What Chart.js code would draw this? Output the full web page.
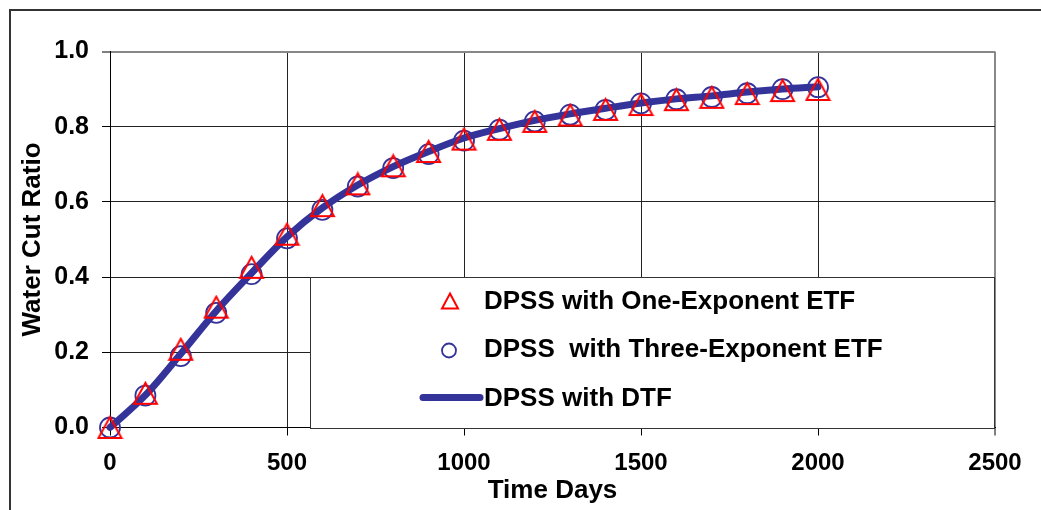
<!DOCTYPE html>
<html>
<head>
<meta charset="utf-8">
<script src="https://cdn.jsdelivr.net/npm/chart.js@4.4.0/dist/chart.umd.min.js"></script>
<style>
  html, body { margin: 0; padding: 0; background: #fff; }
  #wrap { position: relative; width: 1041px; height: 510px; }
</style>
</head>
<body>
<div id="wrap"><canvas id="waterCut" width="1041" height="510"></canvas></div>
<script>
// Time (days) at which every model was evaluated
const timeDays = [0, 100, 200, 300, 400, 500, 600, 700, 800, 900, 1000,
                  1100, 1200, 1300, 1400, 1500, 1600, 1700, 1800, 1900, 2000];

// Water cut ratio for each model
const oneExponentEtf = [0.0, 0.091, 0.208, 0.320, 0.426, 0.514, 0.590, 0.648, 0.696, 0.734, 0.767,
                        0.793, 0.814, 0.831, 0.846, 0.859, 0.872, 0.878, 0.888, 0.896, 0.899];
const threeExponentEtf = [0.0, 0.085, 0.190, 0.305, 0.408, 0.503, 0.579, 0.641, 0.690, 0.727, 0.763,
                          0.792, 0.814, 0.832, 0.845, 0.862, 0.873, 0.879, 0.889, 0.900, 0.905];
const dtfCurve = [0.0, 0.086, 0.196, 0.310, 0.411, 0.507, 0.584, 0.645, 0.694, 0.734, 0.770,
                  0.795, 0.817, 0.834, 0.849, 0.863, 0.874, 0.882, 0.892, 0.900, 0.906];

// Axis ticks
const xTicks = [0, 500, 1000, 1500, 2000, 2500];
const yTicks = [0.0, 0.2, 0.4, 0.6, 0.8, 1.0];

const seriesLabels = ['DPSS with One-Exponent ETF', 'DPSS  with Three-Exponent ETF', 'DPSS with DTF'];

const RED = '#ff0000';
const NAVY = '#333399';
const FONT = '"Liberation Sans", Arial, sans-serif';

// Open triangle marker, centred on its bounding box
function makeTriangle(w, h, lw, color) {
    const c = document.createElement('canvas');
    c.width = w + lw * 2;
    c.height = h + lw * 2;
    const g = c.getContext('2d');
    g.strokeStyle = color;
    g.lineWidth = lw;
    g.lineJoin = 'miter';
    g.beginPath();
    g.moveTo(c.width / 2, lw);
    g.lineTo(c.width - lw, c.height - lw);
    g.lineTo(lw, c.height - lw);
    g.closePath();
    g.stroke();
    return c;
}

const triangleMarker = makeTriangle(23, 21, 2, RED);

function toPoints(values) {
    return timeDays.map((t, i) => ({ x: t, y: values[i] }));
}

// Outer frame around the whole figure
const framePlugin = {
    id: 'frame',
    beforeDraw(chart) {
        const ctx = chart.ctx;
        ctx.save();
        ctx.strokeStyle = '#333';
        ctx.lineWidth = 2;
        ctx.beginPath();
        ctx.moveTo(10, chart.height + 2);
        ctx.lineTo(10, 10);
        ctx.lineTo(chart.width + 2, 10);
        ctx.stroke();
        ctx.restore();
    }
};

// Boxed legend sitting inside the lower right of the plot
const boxLegendPlugin = {
    id: 'boxLegend',
    beforeDatasetsDraw(chart) {
        const ctx = chart.ctx;
        const area = chart.chartArea;
        const yScale = chart.scales.y;
        const left = area.left + 200;
        const top = Math.round(yScale.getPixelForValue(0.4)) + 0.5;
        const right = area.right - 1;
        const bottom = Math.round(area.bottom) + 0.5;

        ctx.save();
        ctx.fillStyle = '#fff';
        ctx.fillRect(left, top, right - left, bottom - top);
        ctx.strokeStyle = '#333';
        ctx.lineWidth = 1;
        ctx.strokeRect(left + 0.5, top, right - left, bottom - top);

        const textX = left + 174;
        const rows = [top + 23, top + 71, top + 120];

        // triangle sample
        ctx.strokeStyle = RED;
        ctx.lineWidth = 2;
        ctx.beginPath();
        ctx.moveTo(left + 140, rows[0] - 7);
        ctx.lineTo(left + 148, rows[0] + 8);
        ctx.lineTo(left + 132, rows[0] + 8);
        ctx.closePath();
        ctx.stroke();

        // circle sample
        ctx.strokeStyle = NAVY;
        ctx.lineWidth = 1.8;
        ctx.beginPath();
        ctx.arc(left + 139, rows[1] + 2, 7, 0, Math.PI * 2);
        ctx.stroke();

        // line sample
        ctx.lineWidth = 7;
        ctx.lineCap = 'round';
        ctx.beginPath();
        ctx.moveTo(left + 113, rows[2]);
        ctx.lineTo(left + 170, rows[2]);
        ctx.stroke();

        ctx.fillStyle = '#000';
        ctx.font = 'bold 26px ' + FONT;
        ctx.textAlign = 'left';
        ctx.textBaseline = 'middle';
        seriesLabels.forEach((label, i) => ctx.fillText(label, textX, rows[i] + 1));
        ctx.restore();
    }
};

const ctx = document.getElementById('waterCut').getContext('2d');
new Chart(ctx, {
    type: 'line',
    data: {
        datasets: [
            {
                label: seriesLabels[0],
                data: toPoints(oneExponentEtf),
                showLine: false,
                pointStyle: triangleMarker,
                clip: false,
                order: 1
            },
            {
                label: seriesLabels[1],
                data: toPoints(threeExponentEtf),
                showLine: false,
                pointStyle: 'circle',
                pointRadius: 10,
                pointBorderWidth: 1.8,
                pointBorderColor: NAVY,
                pointBackgroundColor: 'rgba(0,0,0,0)',
                clip: false,
                order: 2
            },
            {
                label: seriesLabels[2],
                data: toPoints(dtfCurve),
                borderColor: NAVY,
                borderWidth: 7,
                borderCapStyle: 'round',
                cubicInterpolationMode: 'monotone',
                pointRadius: 0,
                clip: false,
                order: 3
            }
        ]
    },
    options: {
        responsive: false,
        animation: false,
        events: [],
        layout: { padding: { left: 0, right: 46, top: 51.5, bottom: 0 } },
        plugins: {
            legend: { display: false },
            tooltip: { enabled: false }
        },
        scales: {
            x: {
                type: 'linear',
                min: 0,
                max: 2500,
                afterBuildTicks: (scale) => { scale.ticks = xTicks.map(v => ({ value: v })); },
                afterFit: (scale) => { scale.height = 82.5; },
                ticks: {
                    color: '#000',
                    padding: 13,
                    callback: (v) => String(v),
                    font: { family: FONT, size: 24, weight: 'bold' }
                },
                grid: {
                    color: (c) => c.tick && c.tick.value === 2500 ? '#888' : '#222',
                    lineWidth: (c) => c.tick && c.tick.value === 2500 ? 2 : 1,
                    tickColor: '#000',
                    tickWidth: 1,
                    tickLength: 8
                },
                border: { color: '#000', width: 1 },
                title: {
                    display: true,
                    text: 'Time Days',
                    color: '#000',
                    font: { family: FONT, size: 26, weight: 'bold', lineHeight: 1.2 },
                    padding: { top: 0, bottom: 4 }
                }
            },
            y: {
                min: 0,
                max: 1,
                afterBuildTicks: (scale) => { scale.ticks = yTicks.map(v => ({ value: v })); },
                afterFit: (scale) => { scale.width = 110; },
                ticks: {
                    color: '#000',
                    padding: 13,
                    callback: (v) => Number(v).toFixed(1),
                    font: { family: FONT, size: 25, weight: 'bold' }
                },
                grid: {
                    color: (c) => c.tick && c.tick.value === 1 ? '#888' : '#222',
                    lineWidth: (c) => c.tick && c.tick.value === 1 ? 2 : 1,
                    tickColor: '#000',
                    tickWidth: 1,
                    tickLength: 8
                },
                border: { color: '#000', width: 1 },
                title: {
                    display: true,
                    text: 'Water Cut Ratio',
                    color: '#000',
                    font: { family: FONT, size: 26, weight: 'bold', lineHeight: 1.2 },
                    padding: { top: 17, bottom: 0 }
                }
            }
        }
    },
    plugins: [framePlugin, boxLegendPlugin]
});
</script>
</body>
</html>
